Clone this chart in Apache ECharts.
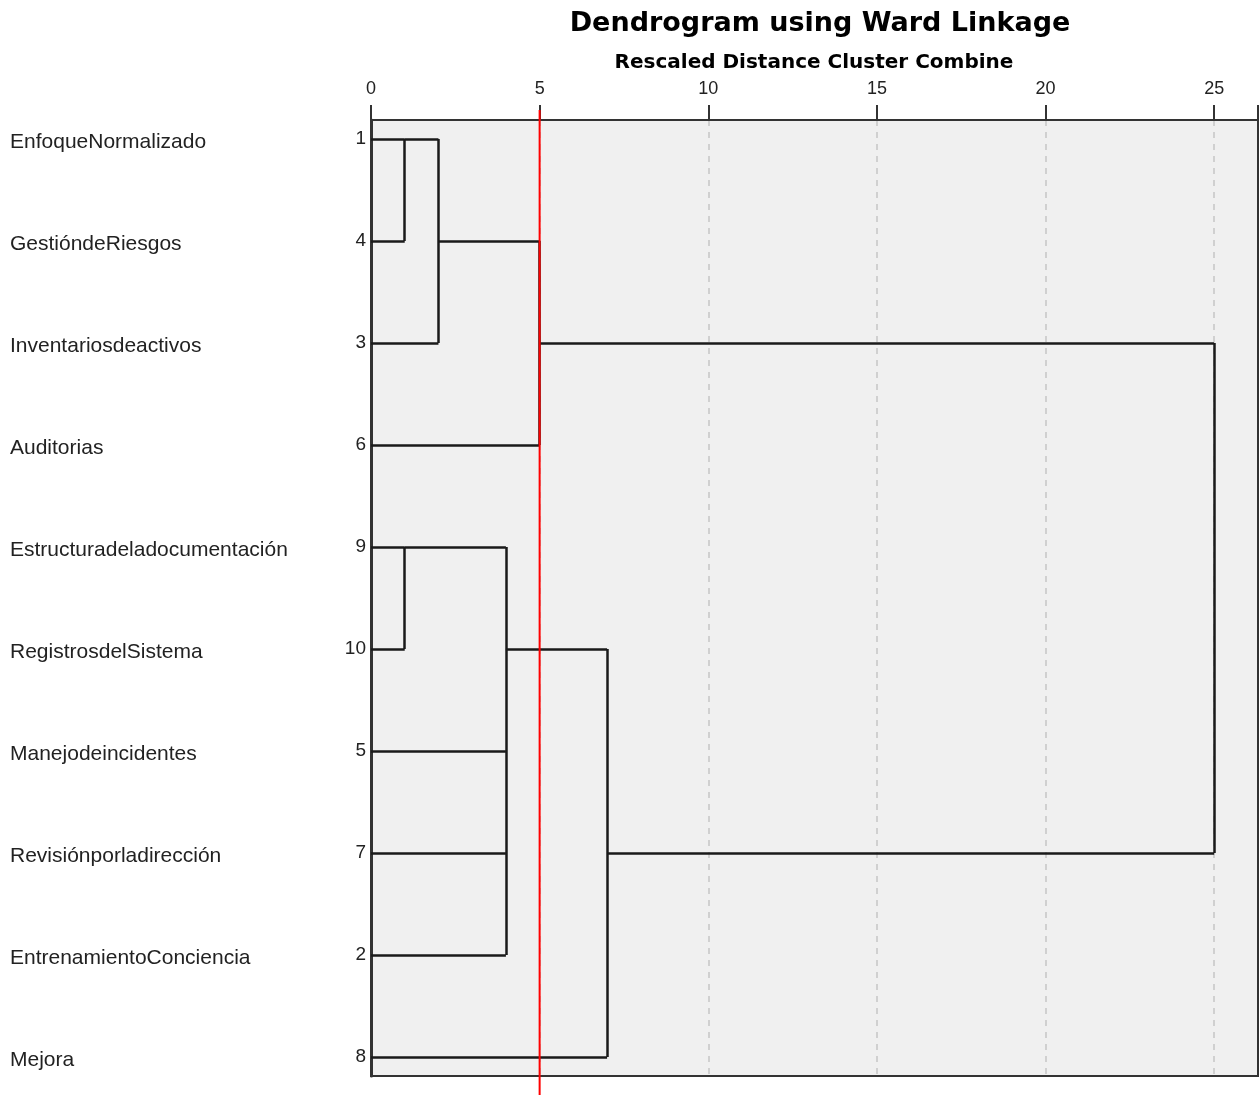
<!DOCTYPE html>
<html>
<head>
<meta charset="utf-8">
<script src="https://cdn.jsdelivr.net/npm/echarts@6/dist/echarts.min.js"></script>
<style>
html,body{margin:0;padding:0;background:#fff;}
#chart{width:1259px;height:1095px;}
</style>
</head>
<body>
<div id="chart"></div>
<script>
// Leaves in dendrogram order (top to bottom)
const labels = ['EnfoqueNormalizado','GestióndeRiesgos','Inventariosdeactivos','Auditorias','Estructuradeladocumentación','RegistrosdelSistema','Manejodeincidentes','Revisiónporladirección','EntrenamientoConciencia','Mejora'];
const caseIds = [1, 4, 3, 6, 9, 10, 5, 7, 2, 8];
// Agglomeration stages: positive = case id, negative = -stage number
const mergeLeft  = [1, 9, -1, 7, 5, -2, -3, -6, -7];
const mergeRight = [4, 10, 3, 2, -4, -5, 6, 8, -8];
const mergeDist  = [1, 1, 2, 4, 4, 4, 5, 7, 25];
// Axis ticks
const xTicks = [0, 5, 10, 15, 20, 25];
const cutLine = 5;
const titleText = 'Dendrogram using Ward Linkage';
const subtitleText = 'Rescaled Distance Cluster Combine';

// Build segments from the merge schedule
const stageRow = [], stageX = [];
function nodeInfo(ref) {
  if (ref > 0) return { row: caseIds.indexOf(ref), x: 0 };
  return { row: stageRow[-ref - 1], x: stageX[-ref - 1] };
}
const segments = [];
for (let i = 0; i < mergeDist.length; i++) {
  const a = nodeInfo(mergeLeft[i]);
  const b = nodeInfo(mergeRight[i]);
  const d = mergeDist[i];
  segments.push({ coords: [[a.x, a.row], [d, a.row]] });
  segments.push({ coords: [[b.x, b.row], [d, b.row]] });
  segments.push({ coords: [[d, a.row], [d, b.row]] });
  stageRow.push(Math.floor((a.row + b.row) / 2));
  stageX.push(d);
}
const rowIdx = labels.map((_, i) => i);

const chart = echarts.init(document.getElementById('chart'));
const yCommon = {
  type: 'value', inverse: true, min: -0.186, max: labels.length - 1 + 0.186,
  axisLine: { show: false, onZero: false }, axisTick: { show: false }, splitLine: { show: false }
};
chart.setOption({
  animation: false,
  backgroundColor: '#ffffff',
  title: [
    { text: titleText, left: 815, top: 5, textAlign: 'center',
      textStyle: { fontFamily: 'DejaVu Sans', fontWeight: 'bold', fontSize: 27, color: '#000' } },
    { text: subtitleText, left: 809, top: 48, textAlign: 'center',
      textStyle: { fontFamily: 'DejaVu Sans', fontWeight: 'bold', fontSize: 20, color: '#000' } }
  ],
  grid: { left: 371, right: 1, top: 120, bottom: 19, show: true, containLabel: false,
    outerBoundsMode: 'none',
    backgroundColor: '#f0f0f0', borderColor: '#333', borderWidth: 2 },
  xAxis: {
    type: 'value', position: 'top', min: 0, max: 26.3, interval: 5,
    axisLine: { show: true, onZero: false, lineStyle: { color: '#333', width: 2 } },
    axisTick: { show: true, inside: false, length: 15, lineStyle: { color: '#333', width: 2 } },
    axisLabel: { margin: 22, fontFamily: 'Liberation Sans', fontSize: 18, color: '#222',
      formatter: v => (xTicks.indexOf(v) >= 0 ? String(v) : '') },
    splitLine: { show: true, showMinLine: false, showMaxLine: false,
      lineStyle: { color: '#d0d0d0', width: 2, type: [6, 6] } }
  },
  yAxis: [
    Object.assign({}, yCommon, {
      axisLine: { show: true, onZero: false, lineStyle: { color: '#333', width: 3 } },
      axisLabel: { customValues: rowIdx, margin: 5, fontFamily: 'Liberation Sans', fontSize: 19, color: '#222',
        formatter: v => String(caseIds[Math.round(v)]) }
    }),
    Object.assign({}, yCommon, { position: 'left',
      axisLabel: { customValues: rowIdx, margin: 361, align: 'left', color: '#222',
        formatter: v => '{n|' + labels[Math.round(v)] + '}',
        rich: { n: { fontFamily: 'Liberation Sans', fontSize: 21, color: '#222', padding: [7, 0, 0, 0] } } }
    })
  ],
  series: [{
    type: 'lines', coordinateSystem: 'cartesian2d', xAxisIndex: 0, yAxisIndex: 0,
    polyline: false, silent: true, z: 5,
    lineStyle: { color: '#1a1a1a', width: 2.5, opacity: 1 },
    data: segments
  }]
});

// Red cut line at distance 5, extending past the plot
const px = chart.convertToPixel({ xAxisIndex: 0 }, cutLine);
chart.setOption({
  graphic: [{ type: 'line', shape: { x1: px, y1: 110, x2: px, y2: 1095 },
    style: { stroke: '#ff0000', lineWidth: 2 }, z: 100 }]
});
</script>
</body>
</html>
